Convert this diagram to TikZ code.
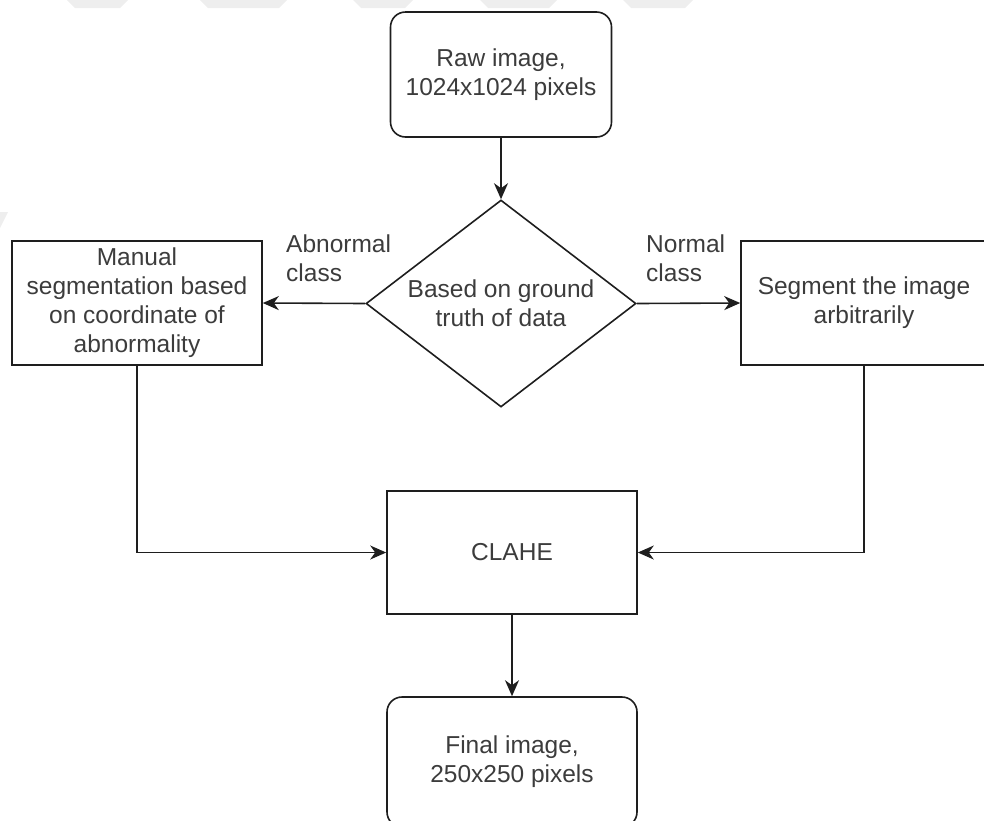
\documentclass[tikz,border=0pt]{standalone}
\usepackage{fontspec}
\setmainfont{Liberation Sans}
\usetikzlibrary{shapes.geometric,arrows.meta}
\definecolor{txtgray}{RGB}{60,60,60}
\definecolor{linecol}{RGB}{30,30,30}
\definecolor{wmgray}{RGB}{238,238,238}
\tikzset{
  boxstyle/.style={draw=linecol, line width=1.6pt, rectangle, inner sep=0pt, align=center,
    text=txtgray, font=\fontsize{24.5}{29}\selectfont},
  roundbox/.style={boxstyle, rounded corners=15pt},
  txtstyle/.style={inner sep=0pt, align=center, text=txtgray, font=\fontsize{24.5}{29}\selectfont},
  lblstyle/.style={inner sep=0pt, align=left, text=txtgray, font=\fontsize{24.5}{29}\selectfont, anchor=west},
  flow/.style={draw=linecol, line width=1.6pt, -{Stealth[length=16pt,width=14pt,inset=5pt]}},
  wm/.style={fill=wmgray, draw=none}
}
\begin{document}
\begin{tikzpicture}[x=1pt,y=-1pt]
\useasboundingbox (0,0) rectangle (984,820);
\clip (0,0) rectangle (984,820);
% faint watermark fragments
\fill[wm] (67,0) -- (128,0) -- (120,8) -- (75,8) -- cycle;
\fill[wm] (200,0) -- (287,0) -- (279,8) -- (208,8) -- cycle;
\fill[wm] (353,0) -- (413,0) -- (405,8) -- (361,8) -- cycle;
\fill[wm] (480,0) -- (557,0) -- (549,8) -- (488,8) -- cycle;
\fill[wm] (623,0) -- (693,0) -- (685,8) -- (631,8) -- cycle;
\fill[wm] (0,212) -- (8,212) -- (0,228) -- cycle;
% nodes
\node[roundbox, minimum width=221pt, minimum height=125pt] (raw) at (501,74.5) {Raw image,\\1024x1024 pixels};
\node[diamond, draw=linecol, line width=1.6pt, inner sep=0pt, minimum width=270pt, minimum height=207pt] (dec) at (501,303.5) {};
\node[txtstyle] (dectxt) at (dec.center) {Based on ground\\truth of data};
\node[boxstyle, minimum width=250pt, minimum height=124pt] (man) at (137,303) {Manual\\segmentation based\\on coordinate of\\abnormality};
\node[boxstyle, minimum width=246pt, minimum height=124pt] (seg) at (864,303) {Segment the image\\arbitrarily};
\node[boxstyle, minimum width=250pt, minimum height=123pt] (clahe) at (512,552.5) {CLAHE};
\node[roundbox, minimum width=250pt, minimum height=130pt] (fin) at (512,762) {Final image,\\250x250 pixels};
% labels
\node[lblstyle] (lab1) at (286,258) {Abnormal\\class};
\node[lblstyle] (lab2) at (646,258) {Normal\\class};
% connectors
\draw[flow] (raw.south) -- (dec.north);
\draw[flow] (dec.west) -- (man.east);
\draw[flow] (dec.east) -- (seg.west);
\draw[flow] (man.south) |- (clahe.west);
\draw[flow] (seg.south) |- (clahe.east);
\draw[flow] (clahe.south) -- (fin.north);
\end{tikzpicture}
\end{document}
